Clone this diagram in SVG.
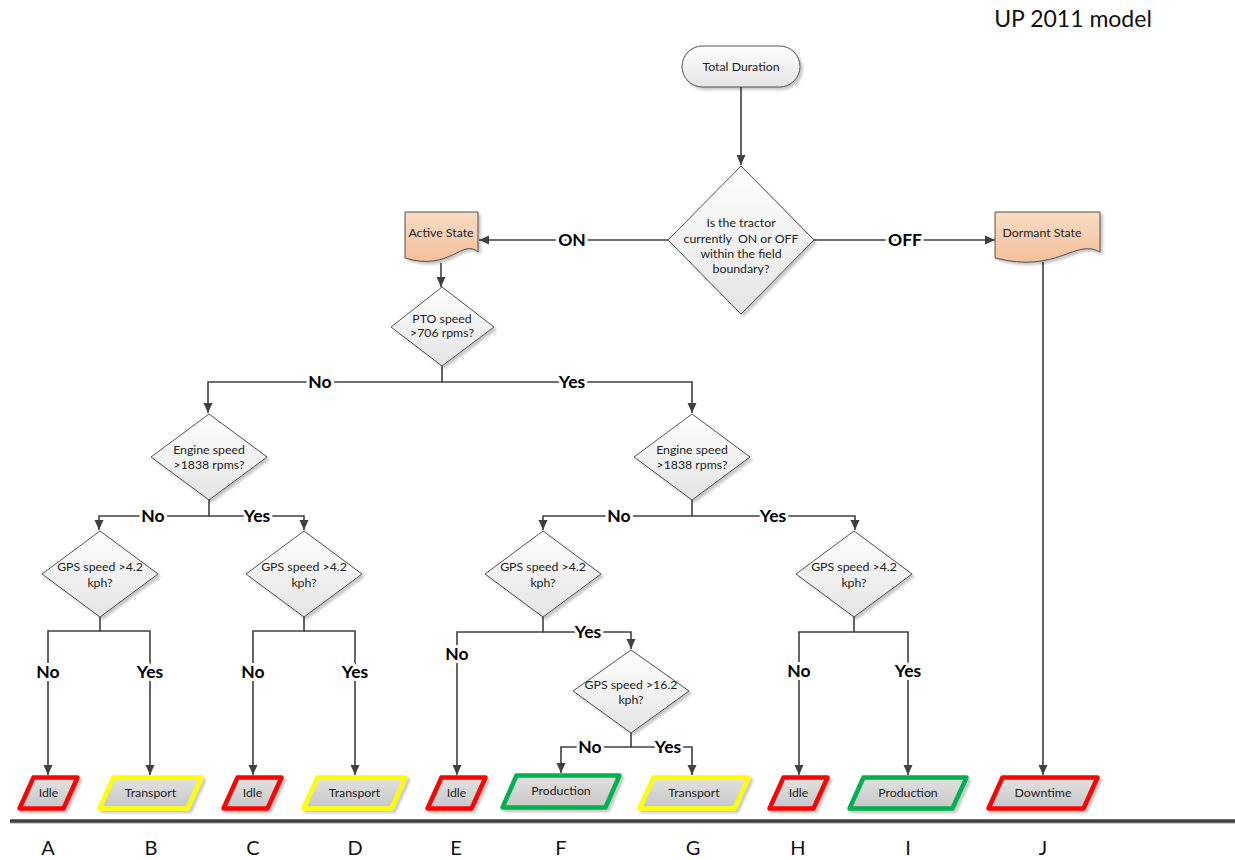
<svg xmlns="http://www.w3.org/2000/svg" width="1235" height="860" viewBox="0 0 1235 860">
<defs>
<linearGradient id="gDia" x1="0" y1="0" x2="0" y2="1"><stop offset="0" stop-color="#ffffff"/><stop offset="1" stop-color="#e4e4e4"/></linearGradient>
<linearGradient id="gDoc" x1="0" y1="0" x2="0" y2="1"><stop offset="0" stop-color="#fadcc4"/><stop offset="1" stop-color="#f4c09a"/></linearGradient>
<linearGradient id="gLeaf" x1="0" y1="0" x2="0" y2="1"><stop offset="0" stop-color="#e2e2e2"/><stop offset="1" stop-color="#c6c6c6"/></linearGradient>
<filter id="sh" x="-20%" y="-20%" width="150%" height="150%"><feDropShadow dx="2.5" dy="2.5" stdDeviation="1.2" flood-color="#000" flood-opacity="0.22"/></filter>
<marker id="arr" markerUnits="userSpaceOnUse" markerWidth="10" markerHeight="10" refX="10" refY="5" orient="auto"><path d="M0,0.5 L10,5 L0,9.5 z" fill="#404040"/></marker>
<style>
.t{font-family:Lato,"Liberation Sans",sans-serif;font-size:12.3px;fill:#222;text-anchor:middle}
.lb{font-family:Lato,"Liberation Sans",sans-serif;font-size:17.5px;font-weight:bold;fill:#000;text-anchor:middle;stroke:#fff;stroke-width:6px;paint-order:stroke;stroke-linejoin:round}
.big{font-family:Lato,"Liberation Sans",sans-serif;font-size:20px;fill:#111;text-anchor:middle}
.ca{fill:none;stroke:#404040;stroke-width:1.6;marker-end:url(#arr)}
.dia{fill:url(#gDia);stroke:#404040;stroke-width:0.9;filter:url(#sh)}
.doc{fill:url(#gDoc);stroke:#404040;stroke-width:0.9;filter:url(#sh)}
.leaf{fill:url(#gLeaf);stroke-width:4.5;stroke-linejoin:round;filter:url(#sh)}
.red{stroke:#ff0000}.yel{stroke:#ffff00}.grn{stroke:#00b050}
</style>
</defs>
<rect width="1235" height="860" fill="#fff"/>
<text x="1073" y="27" class="big" style="font-size:23px">UP 2011 model</text>

<g id="connectors">
<path class="ca" d="M741,87 V165"/>
<path class="ca" d="M668,240 H479"/>
<path class="ca" d="M814,240 H995"/>
<path class="ca" d="M441,263 V287"/>
<path class="ca" d="M442,366 V382 H208 V413"/>
<path class="ca" d="M442,382 H692 V413"/>
<path class="ca" d="M209,500 V516 H99 V530"/>
<path class="ca" d="M209,516 H304 V530"/>
<path class="ca" d="M692,500 V516 H543 V530"/>
<path class="ca" d="M692,516 H855 V530"/>
<path class="ca" d="M100,617 V631 H48 V775"/>
<path class="ca" d="M100,631 H150 V775"/>
<path class="ca" d="M304,617 V631 H253 V775"/>
<path class="ca" d="M304,631 H355 V775"/>
<path class="ca" d="M543,617 V632 H457 V775"/>
<path class="ca" d="M543,632 H631 V649"/>
<path class="ca" d="M631,733 V747 H561 V773"/>
<path class="ca" d="M631,747 H692 V775"/>
<path class="ca" d="M854,617 V632 H799 V775"/>
<path class="ca" d="M854,632 H908 V775"/>
<path class="ca" d="M1043,262 V775"/>
<text class="lb" x="572" y="246">ON</text>
<text class="lb" x="905" y="246">OFF</text>
<text class="lb" x="320" y="388">No</text>
<text class="lb" x="572" y="388">Yes</text>
<text class="lb" x="153" y="522">No</text>
<text class="lb" x="257" y="522">Yes</text>
<text class="lb" x="619" y="522">No</text>
<text class="lb" x="773" y="522">Yes</text>
<text class="lb" x="588" y="638">Yes</text>
<text class="lb" x="457" y="660">No</text>
<text class="lb" x="590" y="753">No</text>
<text class="lb" x="668" y="753">Yes</text>
<text class="lb" x="48" y="678">No</text>
<text class="lb" x="150" y="678">Yes</text>
<text class="lb" x="253" y="678">No</text>
<text class="lb" x="355" y="678">Yes</text>
<text class="lb" x="799" y="677">No</text>
<text class="lb" x="908" y="677">Yes</text>
</g>

<g id="total-duration">
<rect x="682" y="46" width="118" height="41" rx="20.5" fill="url(#gDia)" stroke="#404040" stroke-width="0.9" filter="url(#sh)"/>
<text class="t" x="741" y="70.5">Total Duration</text>
</g>
<g id="on-off">
<polygon class="dia" points="741,166 814,240 741,314 668,240"/>
<text class="t" x="741" y="227">Is the tractor</text>
<text class="t" x="741" y="243">currently&#160; ON or OFF</text>
<text class="t" x="741" y="258">within the field</text>
<text class="t" x="741" y="273">boundary?</text>
</g>
<g id="active-state">
<path class="doc" d="M405,212 H478 V252 C462,238 450,272 405,258 Z"/>
<text class="t" x="441" y="237">Active State</text>
</g>
<g id="dormant-state">
<path class="doc" d="M995,212 H1100 V252 C1075,238 1058,274 995,258 Z"/>
<text class="t" x="1042" y="237">Dormant State</text>
</g>
<g id="pto">
<polygon class="dia" points="442,287 494,327 442,366 391,327"/>
<text class="t" x="442" y="323">PTO speed</text>
<text class="t" x="442" y="337">&gt;706 rpms?</text>
</g>
<g id="engine-left">
<polygon class="dia" points="209,414 267,457 209,500 151,457"/>
<text class="t" x="209" y="454">Engine speed</text>
<text class="t" x="209" y="469">&gt;1838 rpms?</text>
</g>
<g id="engine-right">
<polygon class="dia" points="692,414 750,457 692,500 634,457"/>
<text class="t" x="692" y="454">Engine speed</text>
<text class="t" x="692" y="469">&gt;1838 rpms?</text>
</g>
<g id="gps-a">
<polygon class="dia" points="100,531 158,574 100,617 42,574"/>
<text class="t" x="100" y="571">GPS speed &gt;4.2</text>
<text class="t" x="100" y="587">kph?</text>
</g>
<g id="gps-c">
<polygon class="dia" points="304,531 362,574 304,617 246,574"/>
<text class="t" x="304" y="571">GPS speed &gt;4.2</text>
<text class="t" x="304" y="587">kph?</text>
</g>
<g id="gps-e">
<polygon class="dia" points="543,531 601,574 543,617 485,574"/>
<text class="t" x="543" y="571">GPS speed &gt;4.2</text>
<text class="t" x="543" y="587">kph?</text>
</g>
<g id="gps-h">
<polygon class="dia" points="854,531 912,574 854,617 796,574"/>
<text class="t" x="854" y="571">GPS speed &gt;4.2</text>
<text class="t" x="854" y="587">kph?</text>
</g>
<g id="gps-16">
<polygon class="dia" points="631,650 689,691 631,733 573,691"/>
<text class="t" x="631" y="689">GPS speed &gt;16.2</text>
<text class="t" x="631" y="704">kph?</text>
</g>

<g id="leaf-a"><polygon class="leaf red" points="33.5,777.5 77.5,777.5 63.5,808.5 19.5,808.5"/><text class="t" x="48.5" y="797">Idle</text></g>
<g id="leaf-b"><polygon class="leaf yel" points="113.5,777.5 201.5,777.5 187.5,808.5 99.5,808.5"/><text class="t" x="150.5" y="797">Transport</text></g>
<g id="leaf-c"><polygon class="leaf red" points="237.5,777.5 281.5,777.5 267.5,808.5 223.5,808.5"/><text class="t" x="252.5" y="797">Idle</text></g>
<g id="leaf-d"><polygon class="leaf yel" points="317.5,777.5 405.5,777.5 391.5,808.5 303.5,808.5"/><text class="t" x="354.5" y="797">Transport</text></g>
<g id="leaf-e"><polygon class="leaf red" points="441.5,777.5 485.5,777.5 471.5,808.5 427.5,808.5"/><text class="t" x="456.5" y="797">Idle</text></g>
<g id="leaf-f"><polygon class="leaf grn" points="516.5,775.5 619.5,775.5 605.5,807.5 502.5,807.5"/><text class="t" x="561" y="795">Production</text></g>
<g id="leaf-g"><polygon class="leaf yel" points="653.5,777.5 748.5,777.5 734.5,808.5 639.5,808.5"/><text class="t" x="694" y="797">Transport</text></g>
<g id="leaf-h"><polygon class="leaf red" points="783.5,777.5 827.5,777.5 813.5,808.5 769.5,808.5"/><text class="t" x="798.5" y="797">Idle</text></g>
<g id="leaf-i"><polygon class="leaf grn" points="863.5,777.5 966.5,777.5 952.5,808.5 849.5,808.5"/><text class="t" x="908" y="797">Production</text></g>
<g id="leaf-j"><polygon class="leaf red" points="1002.5,777.5 1097.5,777.5 1083.5,808.5 988.5,808.5"/><text class="t" x="1043" y="797">Downtime</text></g>

<g id="baseline">
<line x1="10" y1="823" x2="1235" y2="823" stroke="#d0d0d0" stroke-width="2"/>
<line x1="10" y1="821" x2="1235" y2="821" stroke="#404040" stroke-width="3.5"/>
</g>
<g id="letters">
<text class="big" x="48" y="855">A</text>
<text class="big" x="151" y="855">B</text>
<text class="big" x="253" y="855">C</text>
<text class="big" x="355" y="855">D</text>
<text class="big" x="456" y="855">E</text>
<text class="big" x="561" y="855">F</text>
<text class="big" x="693" y="855">G</text>
<text class="big" x="798" y="855">H</text>
<text class="big" x="908" y="855">I</text>
<text class="big" x="1043" y="855">J</text>
</g>
</svg>
